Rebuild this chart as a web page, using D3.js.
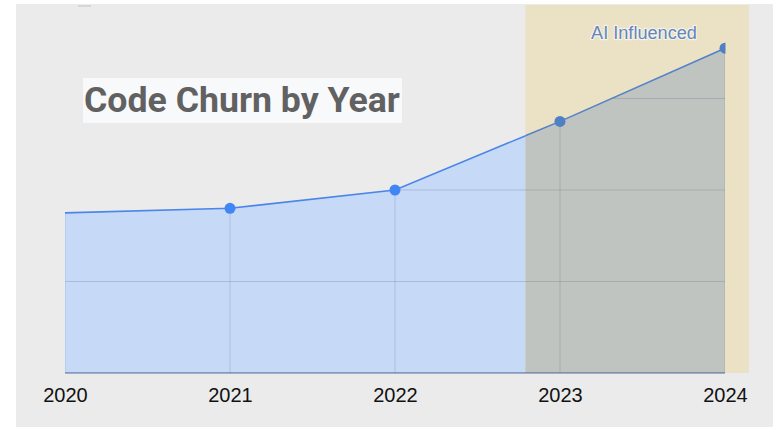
<!DOCTYPE html>
<html><head><meta charset="utf-8">
<script src="https://cdn.jsdelivr.net/npm/d3@7/dist/d3.min.js"></script>
<style>html,body{margin:0;padding:0;background:#fff;}svg{display:block;}</style>
</head><body>
<svg id="chart" width="773" height="427"></svg>
<script>
const years = ["2020", "2021", "2022", "2023", "2024"];
const churn = [3.5, 3.6, 4.0, 5.5, 7.1];
const gridTicks = [0, 2, 4, 6, 8];
const dotYears = ["2021", "2022", "2023", "2024"];
const bandStartYear = 2022.79;
const titleText = "Code Churn by Year";
const bandLabel = "AI Influenced";

(function () {
const svg = d3.select("#chart");
const W = 773, H = 427;
const mLeft = 65, mRight = 725, mTop = 7, mBottom = 373;

const x = d3.scalePoint().domain(years).range([mLeft, mRight]);
const xLin = d3.scaleLinear().domain([2020, 2024]).range([mLeft, mRight]);
const y = d3.scaleLinear().domain([0, 8]).range([mBottom, mTop]);

const data = years.map((yr, i) => ({yr, v: churn[i]}));
const bandX0 = xLin(bandStartYear);
const bandX1 = 749;

// panel background
svg.append("rect").attr("x", 16).attr("y", 4).attr("width", W - 16).attr("height", H - 4).attr("fill", "#ebebeb");
svg.append("line").attr("x1", 78).attr("x2", 91).attr("y1", 6).attr("y2", 6).attr("stroke", "#cfcfcf").attr("stroke-width", 1.5);

const defs = svg.append("defs");
const area = d3.area().x(d => x(d.yr)).y0(y(0)).y1(d => y(d.v));
const areaPath = area(data);
defs.append("clipPath").attr("id", "areaClip").append("path").attr("d", areaPath);
defs.append("clipPath").attr("id", "leftClip").append("rect")
  .attr("x", 0).attr("y", 0).attr("width", bandX0).attr("height", H);
defs.append("clipPath").attr("id", "bandClip").append("rect")
  .attr("x", bandX0).attr("y", 0).attr("width", mRight - bandX0 + 0.5).attr("height", H);
defs.append("clipPath").attr("id", "plotClip").append("rect")
  .attr("x", 0).attr("y", 0).attr("width", mRight + 0.5).attr("height", H);

// band
svg.append("rect").attr("x", bandX0).attr("y", 5).attr("width", bandX1 - bandX0).attr("height", mBottom - 5)
  .attr("fill", "#ebe1c5");

// area fills
svg.append("path").attr("d", areaPath).attr("fill", "#c6d9f7").attr("clip-path", "url(#leftClip)");
svg.append("path").attr("d", areaPath).attr("fill", "#bfc4c1").attr("clip-path", "url(#bandClip)");

// grid lines, visible only inside area
const grid = svg.append("g").attr("clip-path", "url(#areaClip)");
grid.selectAll("line.h").data(gridTicks).join("line").attr("class", "h")
  .attr("x1", mLeft).attr("x2", mRight).attr("y1", d => y(d)).attr("y2", d => y(d))
  .attr("stroke", "rgba(80,100,130,0.24)").attr("stroke-width", 1);
grid.selectAll("line.v").data(years).join("line").attr("class", "v")
  .attr("x1", d => x(d)).attr("x2", d => x(d)).attr("y1", mTop).attr("y2", mBottom)
  .attr("stroke", "rgba(80,100,130,0.22)").attr("stroke-width", 1);

// baseline
svg.append("line").attr("x1", mLeft).attr("x2", mRight).attr("y1", y(0)).attr("y2", y(0))
  .attr("stroke", "rgba(60,90,140,0.55)").attr("stroke-width", 1.3);

// line
const line = d3.line().x(d => x(d.yr)).y(d => y(d.v));
svg.append("path").attr("d", line(data)).attr("fill", "none").attr("stroke", "#4a86e8")
  .attr("stroke-width", 1.6).attr("clip-path", "url(#leftClip)");
svg.append("path").attr("d", line(data)).attr("fill", "none").attr("stroke", "#5282c8")
  .attr("stroke-width", 1.6).attr("clip-path", "url(#bandClip)");

// dots
const dots = svg.append("g").attr("clip-path", "url(#plotClip)");
dots.selectAll("circle").data(data.filter(d => dotYears.includes(d.yr))).join("circle")
  .attr("cx", d => x(d.yr)).attr("cy", d => y(d.v)).attr("r", 5.5)
  .attr("fill", d => x(d.yr) > bandX0 ? "#5080c4" : "#4285f4");

// title
svg.append("rect").attr("x", 83).attr("y", 78).attr("width", 319).attr("height", 45).attr("fill", "#f8f9fb");
const t = svg.append("text").attr("x", 84).attr("y", 112).text(titleText)
  .attr("font-family", "Roboto, sans-serif").attr("font-weight", "bold").attr("font-size", 34).attr("fill", "#616161");
const tw = t.node().getComputedTextLength();
t.attr("font-size", 34 * 316 / tw);

// band label
const bl = svg.append("text").attr("x", 644).attr("y", 39).attr("text-anchor", "middle").text(bandLabel)
  .attr("font-family", "Liberation Sans, Arial, sans-serif").attr("font-size", 18)
  .attr("fill", "#6287be").attr("stroke", "rgba(255,255,255,0.6)").attr("stroke-width", 2.4)
  .attr("paint-order", "stroke").attr("stroke-linejoin", "round");
const bw = bl.node().getComputedTextLength();
bl.attr("font-size", 18 * 106 / bw);

// x axis labels
const xAxis = d3.axisBottom(x).tickSize(0).tickPadding(0);
const ax = svg.append("g").attr("transform", `translate(0,${mBottom})`).call(xAxis);
ax.select(".domain").remove();
ax.selectAll("text").attr("font-family", "Liberation Sans, Arial, sans-serif").attr("font-size", 20)
  .attr("fill", "#111").attr("dy", null).attr("y", 29);
})();
</script>
</body></html>
